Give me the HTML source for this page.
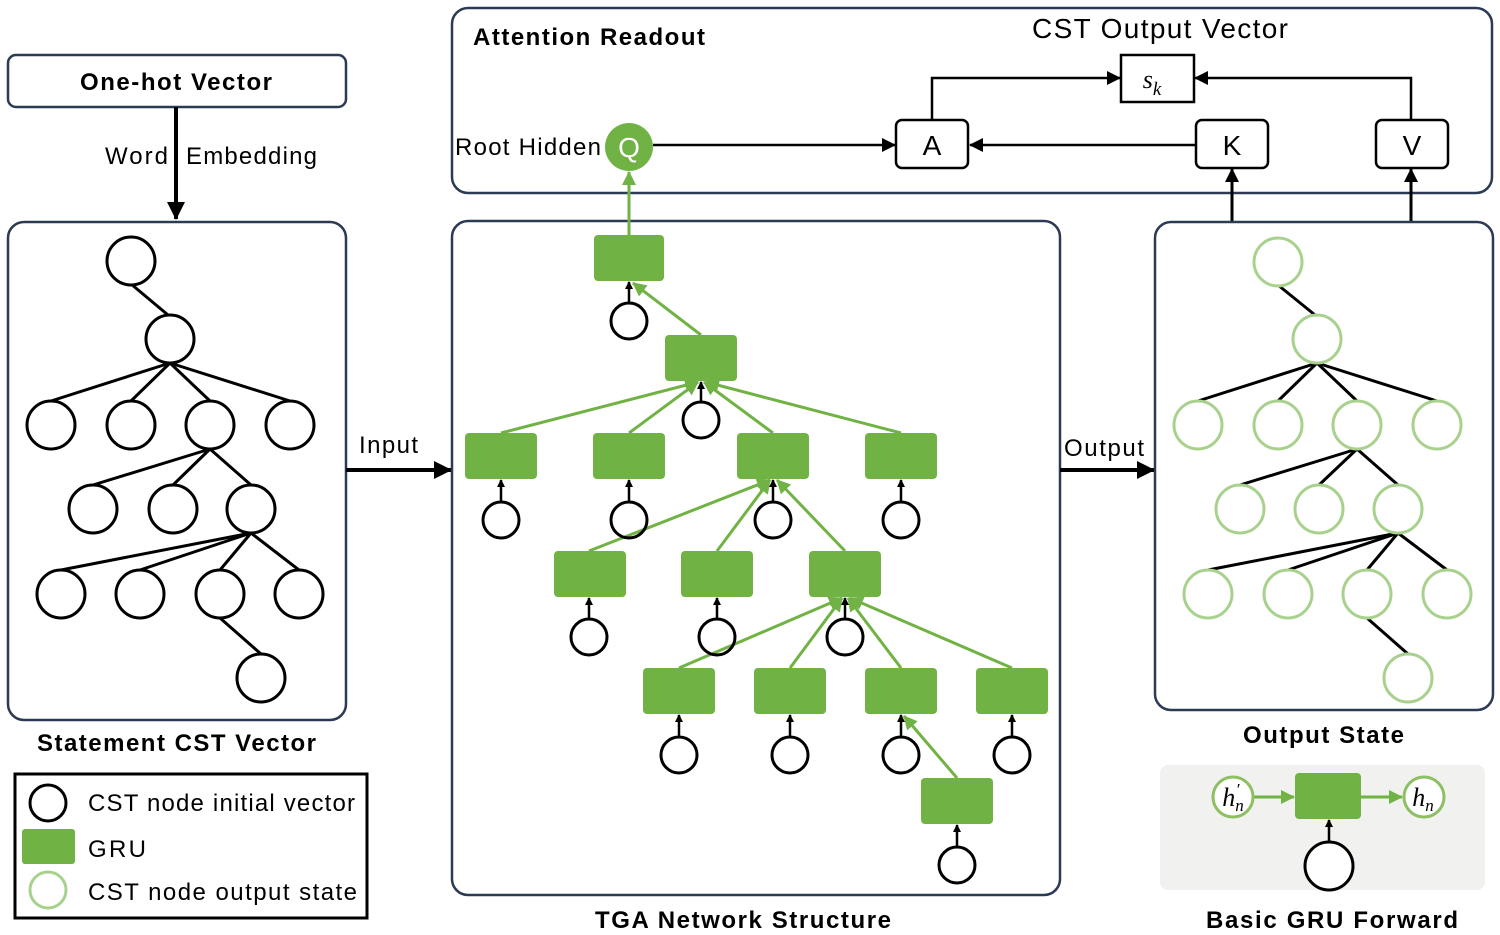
<!DOCTYPE html>
<html><head><meta charset="utf-8"><style>
html,body{margin:0;padding:0;background:#fff;}
svg{display:block;font-family:"Liberation Sans",Arial,sans-serif;}
</style></head><body>
<svg width="1500" height="935" viewBox="0 0 1500 935" xmlns="http://www.w3.org/2000/svg">
<defs>
<marker id="ab" markerWidth="14" markerHeight="14" refX="13" refY="7" orient="auto" markerUnits="userSpaceOnUse"><path d="M0,0 L14,7 L0,14 z" fill="#000"/></marker>
<marker id="abs" markerWidth="8" markerHeight="8" refX="7" refY="4" orient="auto" markerUnits="userSpaceOnUse"><path d="M0,0 L8,4 L0,8 z" fill="#000"/></marker>
<marker id="abl" markerWidth="18" markerHeight="18" refX="17" refY="9" orient="auto" markerUnits="userSpaceOnUse"><path d="M0,0 L18,9 L0,18 z" fill="#000"/></marker>
<marker id="ag" markerWidth="14" markerHeight="14" refX="13" refY="7" orient="auto" markerUnits="userSpaceOnUse"><path d="M0,0 L14,7 L0,14 z" fill="#70b244"/></marker>
</defs>

<!-- One-hot vector -->
<rect x="8" y="55" width="338" height="52" rx="8" fill="#fff" stroke="#2b3a55" stroke-width="2.5"/>
<text x="80" y="90" font-size="24" font-weight="bold" textLength="192" lengthAdjust="spacing">One-hot Vector</text>
<line x1="176" y1="107" x2="176" y2="219" stroke="#000" stroke-width="4" marker-end="url(#abl)"/>
<text x="105" y="164" font-size="24" textLength="63" lengthAdjust="spacing">Word</text>
<text x="186" y="164" font-size="24" textLength="131" lengthAdjust="spacing">Embedding</text>

<!-- Left panel -->
<rect x="8" y="222" width="338" height="498" rx="16" fill="#fff" stroke="#2b3a55" stroke-width="2.5"/>
<g stroke="#000" stroke-width="3" fill="none">
<line x1="131" y1="284" x2="168" y2="315"/>
<line x1="170" y1="363" x2="51" y2="401"/><line x1="170" y1="363" x2="131" y2="401"/><line x1="170" y1="363" x2="210" y2="401"/><line x1="170" y1="363" x2="290" y2="401"/>
<line x1="210" y1="449" x2="93" y2="485"/><line x1="210" y1="449" x2="173" y2="485"/><line x1="210" y1="449" x2="251" y2="485"/>
<line x1="251" y1="533" x2="61" y2="570"/><line x1="251" y1="533" x2="140" y2="570"/><line x1="251" y1="533" x2="220" y2="570"/><line x1="251" y1="533" x2="299" y2="570"/>
<line x1="220" y1="618" x2="261" y2="654"/>
<g fill="#fff">
<circle cx="131" cy="261" r="24"/><circle cx="170" cy="339" r="24"/>
<circle cx="51" cy="425" r="24"/><circle cx="131" cy="425" r="24"/><circle cx="210" cy="425" r="24"/><circle cx="290" cy="425" r="24"/>
<circle cx="93" cy="509" r="24"/><circle cx="173" cy="509" r="24"/><circle cx="251" cy="509" r="24"/>
<circle cx="61" cy="594" r="24"/><circle cx="140" cy="594" r="24"/><circle cx="220" cy="594" r="24"/><circle cx="299" cy="594" r="24"/>
<circle cx="261" cy="678" r="24"/>
</g></g>
<text x="37" y="751" font-size="24" font-weight="bold" textLength="279" lengthAdjust="spacing">Statement CST Vector</text>

<!-- Legend -->
<rect x="15" y="774" width="352" height="144" fill="#fff" stroke="#000" stroke-width="3"/>
<circle cx="48" cy="803" r="18" fill="#fff" stroke="#000" stroke-width="3"/>
<rect x="22" y="829" width="53" height="35" rx="3" fill="#70b244"/>
<circle cx="48" cy="890" r="18" fill="#fff" stroke="#a9d18e" stroke-width="3"/>
<text x="88" y="811" font-size="24" textLength="267" lengthAdjust="spacing">CST node initial vector</text>
<text x="88" y="857" font-size="24" textLength="58" lengthAdjust="spacing">GRU</text>
<text x="88" y="900" font-size="24" textLength="269" lengthAdjust="spacing">CST node output state</text>

<!-- Input arrow -->
<line x1="346" y1="470" x2="451" y2="470" stroke="#000" stroke-width="4" marker-end="url(#abl)"/>
<text x="359" y="453" font-size="24" textLength="59" lengthAdjust="spacing">Input</text>

<!-- Attention panel -->
<rect x="452" y="8" width="1040" height="185" rx="16" fill="#fff" stroke="#2b3a55" stroke-width="2.5"/>
<text x="473" y="45" font-size="24" font-weight="bold" textLength="232" lengthAdjust="spacing">Attention Readout</text>
<text x="1032" y="38" font-size="28" textLength="256" lengthAdjust="spacing">CST Output Vector</text>
<rect x="1121" y="55" width="73" height="47" fill="#fff" stroke="#000" stroke-width="2.5"/>
<text x="1152" y="88" font-size="26" font-style="italic" font-family="Liberation Serif,serif" text-anchor="middle">s<tspan font-size="19" dy="7">k</tspan></text>
<text x="455" y="155" font-size="24" textLength="146" lengthAdjust="spacing">Root Hidden</text>
<circle cx="629" cy="147" r="24" fill="#70b244"/>
<text x="629" y="157" font-size="28" fill="#fff" text-anchor="middle">Q</text>
<g stroke="#000" stroke-width="2.5" fill="none">
<line x1="653" y1="145" x2="895" y2="145" marker-end="url(#ab)"/>
<line x1="1196" y1="145" x2="970" y2="145" marker-end="url(#ab)"/>
<polyline points="932,120 932,78 1120,78" marker-end="url(#ab)"/>
<polyline points="1411,120 1411,78 1195,78" marker-end="url(#ab)"/>
<line x1="1232" y1="221" x2="1232" y2="169" stroke-width="3" marker-end="url(#ab)"/>
<line x1="1411" y1="221" x2="1411" y2="169" stroke-width="3" marker-end="url(#ab)"/>
</g>
<g fill="#fff" stroke="#000" stroke-width="2.5">
<rect x="896" y="120" width="72" height="48" rx="6"/>
<rect x="1196" y="120" width="72" height="48" rx="6"/>
<rect x="1376" y="120" width="72" height="48" rx="6"/>
</g>
<g font-size="28" text-anchor="middle">
<text x="932" y="155">A</text><text x="1232" y="155">K</text><text x="1412" y="155">V</text>
</g>

<!-- Middle panel -->
<rect x="452" y="221" width="608" height="674" rx="16" fill="#fff" stroke="#2b3a55" stroke-width="2.5"/>
<g stroke="#70b244" stroke-width="3" fill="none">
<line x1="629" y1="235" x2="629" y2="172" marker-end="url(#ag)"/>
<line x1="701" y1="335" x2="633" y2="283" marker-end="url(#ag)"/>
<line x1="501" y1="433" x2="698" y2="382" marker-end="url(#ag)"/>
<line x1="629" y1="433" x2="698" y2="382" marker-end="url(#ag)"/>
<line x1="773" y1="433" x2="704" y2="382" marker-end="url(#ag)"/>
<line x1="901" y1="433" x2="706" y2="382" marker-end="url(#ag)"/>
<line x1="589" y1="551" x2="770" y2="480" marker-end="url(#ag)"/>
<line x1="717" y1="551" x2="770" y2="480" marker-end="url(#ag)"/>
<line x1="845" y1="551" x2="777" y2="480" marker-end="url(#ag)"/>
<line x1="679" y1="668" x2="842" y2="598" marker-end="url(#ag)"/>
<line x1="790" y1="668" x2="842" y2="598" marker-end="url(#ag)"/>
<line x1="901" y1="668" x2="848" y2="598" marker-end="url(#ag)"/>
<line x1="1012" y1="668" x2="850" y2="598" marker-end="url(#ag)"/>
<line x1="957" y1="778" x2="904" y2="716" marker-end="url(#ag)"/>
</g>
<g fill="#70b244">
<rect x="594" y="235" width="70" height="46" rx="4"/>
<rect x="665" y="335" width="72" height="46" rx="4"/>
<rect x="465" y="433" width="72" height="46" rx="4"/><rect x="593" y="433" width="72" height="46" rx="4"/><rect x="737" y="433" width="72" height="46" rx="4"/><rect x="865" y="433" width="72" height="46" rx="4"/>
<rect x="554" y="551" width="72" height="46" rx="4"/><rect x="681" y="551" width="72" height="46" rx="4"/><rect x="809" y="551" width="72" height="46" rx="4"/>
<rect x="643" y="668" width="72" height="46" rx="4"/><rect x="754" y="668" width="72" height="46" rx="4"/><rect x="865" y="668" width="72" height="46" rx="4"/><rect x="976" y="668" width="72" height="46" rx="4"/>
<rect x="921" y="778" width="72" height="46" rx="4"/>
</g>
<g stroke="#000" stroke-width="2.5" fill="none">
<line x1="629" y1="303" x2="629" y2="282" marker-end="url(#abs)"/>
<line x1="701" y1="402" x2="701" y2="382" marker-end="url(#abs)"/>
<line x1="501" y1="502" x2="501" y2="480" marker-end="url(#abs)"/><line x1="629" y1="502" x2="629" y2="480" marker-end="url(#abs)"/><line x1="773" y1="502" x2="773" y2="480" marker-end="url(#abs)"/><line x1="901" y1="502" x2="901" y2="480" marker-end="url(#abs)"/>
<line x1="589" y1="619" x2="589" y2="598" marker-end="url(#abs)"/><line x1="717" y1="619" x2="717" y2="598" marker-end="url(#abs)"/><line x1="845" y1="619" x2="845" y2="598" marker-end="url(#abs)"/>
<line x1="679" y1="737" x2="679" y2="715" marker-end="url(#abs)"/><line x1="790" y1="737" x2="790" y2="715" marker-end="url(#abs)"/><line x1="901" y1="737" x2="901" y2="715" marker-end="url(#abs)"/><line x1="1012" y1="737" x2="1012" y2="715" marker-end="url(#abs)"/>
<line x1="957" y1="847" x2="957" y2="825" marker-end="url(#abs)"/>
<g stroke-width="3">
<circle cx="629" cy="321" r="18"/><circle cx="701" cy="420" r="18"/>
<circle cx="501" cy="520" r="18"/><circle cx="629" cy="520" r="18"/><circle cx="773" cy="520" r="18"/><circle cx="901" cy="520" r="18"/>
<circle cx="589" cy="637" r="18"/><circle cx="717" cy="637" r="18"/><circle cx="845" cy="637" r="18"/>
<circle cx="679" cy="755" r="18"/><circle cx="790" cy="755" r="18"/><circle cx="901" cy="755" r="18"/><circle cx="1012" cy="755" r="18"/>
<circle cx="957" cy="865" r="18"/>
</g></g>
<text x="595" y="928" font-size="24" font-weight="bold" textLength="296" lengthAdjust="spacing">TGA Network Structure</text>

<!-- Output arrow -->
<line x1="1060" y1="470" x2="1154" y2="470" stroke="#000" stroke-width="4" marker-end="url(#abl)"/>
<text x="1064" y="456" font-size="24" textLength="80" lengthAdjust="spacing">Output</text>

<!-- Right panel -->
<rect x="1155" y="222" width="338" height="488" rx="16" fill="#fff" stroke="#2b3a55" stroke-width="2.5"/>
<g stroke="#000" stroke-width="3" fill="none">
<line x1="1278" y1="285" x2="1315" y2="315"/>
<line x1="1317" y1="363" x2="1198" y2="401"/><line x1="1317" y1="363" x2="1278" y2="401"/><line x1="1317" y1="363" x2="1357" y2="401"/><line x1="1317" y1="363" x2="1437" y2="401"/>
<line x1="1357" y1="449" x2="1240" y2="485"/><line x1="1357" y1="449" x2="1319" y2="485"/><line x1="1357" y1="449" x2="1398" y2="485"/>
<line x1="1398" y1="533" x2="1208" y2="570"/><line x1="1398" y1="533" x2="1288" y2="570"/><line x1="1398" y1="533" x2="1367" y2="570"/><line x1="1398" y1="533" x2="1447" y2="570"/>
<line x1="1367" y1="618" x2="1408" y2="654"/>
</g>
<g fill="#fff" stroke="#a9d18e" stroke-width="3">
<circle cx="1278" cy="262" r="24"/><circle cx="1317" cy="339" r="24"/>
<circle cx="1198" cy="425" r="24"/><circle cx="1278" cy="425" r="24"/><circle cx="1357" cy="425" r="24"/><circle cx="1437" cy="425" r="24"/>
<circle cx="1240" cy="509" r="24"/><circle cx="1319" cy="509" r="24"/><circle cx="1398" cy="509" r="24"/>
<circle cx="1208" cy="594" r="24"/><circle cx="1288" cy="594" r="24"/><circle cx="1367" cy="594" r="24"/><circle cx="1447" cy="594" r="24"/>
<circle cx="1408" cy="678" r="24"/>
</g>
<text x="1243" y="743" font-size="24" font-weight="bold" textLength="161" lengthAdjust="spacing">Output State</text>

<!-- Basic GRU forward -->
<rect x="1160" y="765" width="325" height="125" rx="8" fill="#f1f2ef"/>
<line x1="1254" y1="797" x2="1294" y2="797" stroke="#70b244" stroke-width="3" marker-end="url(#ag)"/>
<line x1="1361" y1="797" x2="1402" y2="797" stroke="#70b244" stroke-width="3" marker-end="url(#ag)"/>
<rect x="1295" y="773" width="66" height="46" rx="4" fill="#70b244"/>
<circle cx="1233" cy="797" r="20" fill="#fff" stroke="#8cc063" stroke-width="3"/>
<circle cx="1424" cy="797" r="20" fill="#fff" stroke="#8cc063" stroke-width="3"/>
<text x="1233" y="806" font-size="26" font-style="italic" font-family="Liberation Serif,serif" text-anchor="middle">h<tspan font-size="17" dy="5">n</tspan><tspan font-size="17" dx="-8" dy="-16">′</tspan></text>
<text x="1423" y="806" font-size="26" font-style="italic" font-family="Liberation Serif,serif" text-anchor="middle">h<tspan font-size="17" dy="5">n</tspan></text>
<line x1="1329" y1="842" x2="1329" y2="820" stroke="#000" stroke-width="2.5" marker-end="url(#abs)"/>
<circle cx="1329" cy="866" r="24" fill="#fff" stroke="#000" stroke-width="3"/>
<text x="1206" y="928" font-size="24" font-weight="bold" textLength="252" lengthAdjust="spacing">Basic GRU Forward</text>
</svg>
</body></html>
